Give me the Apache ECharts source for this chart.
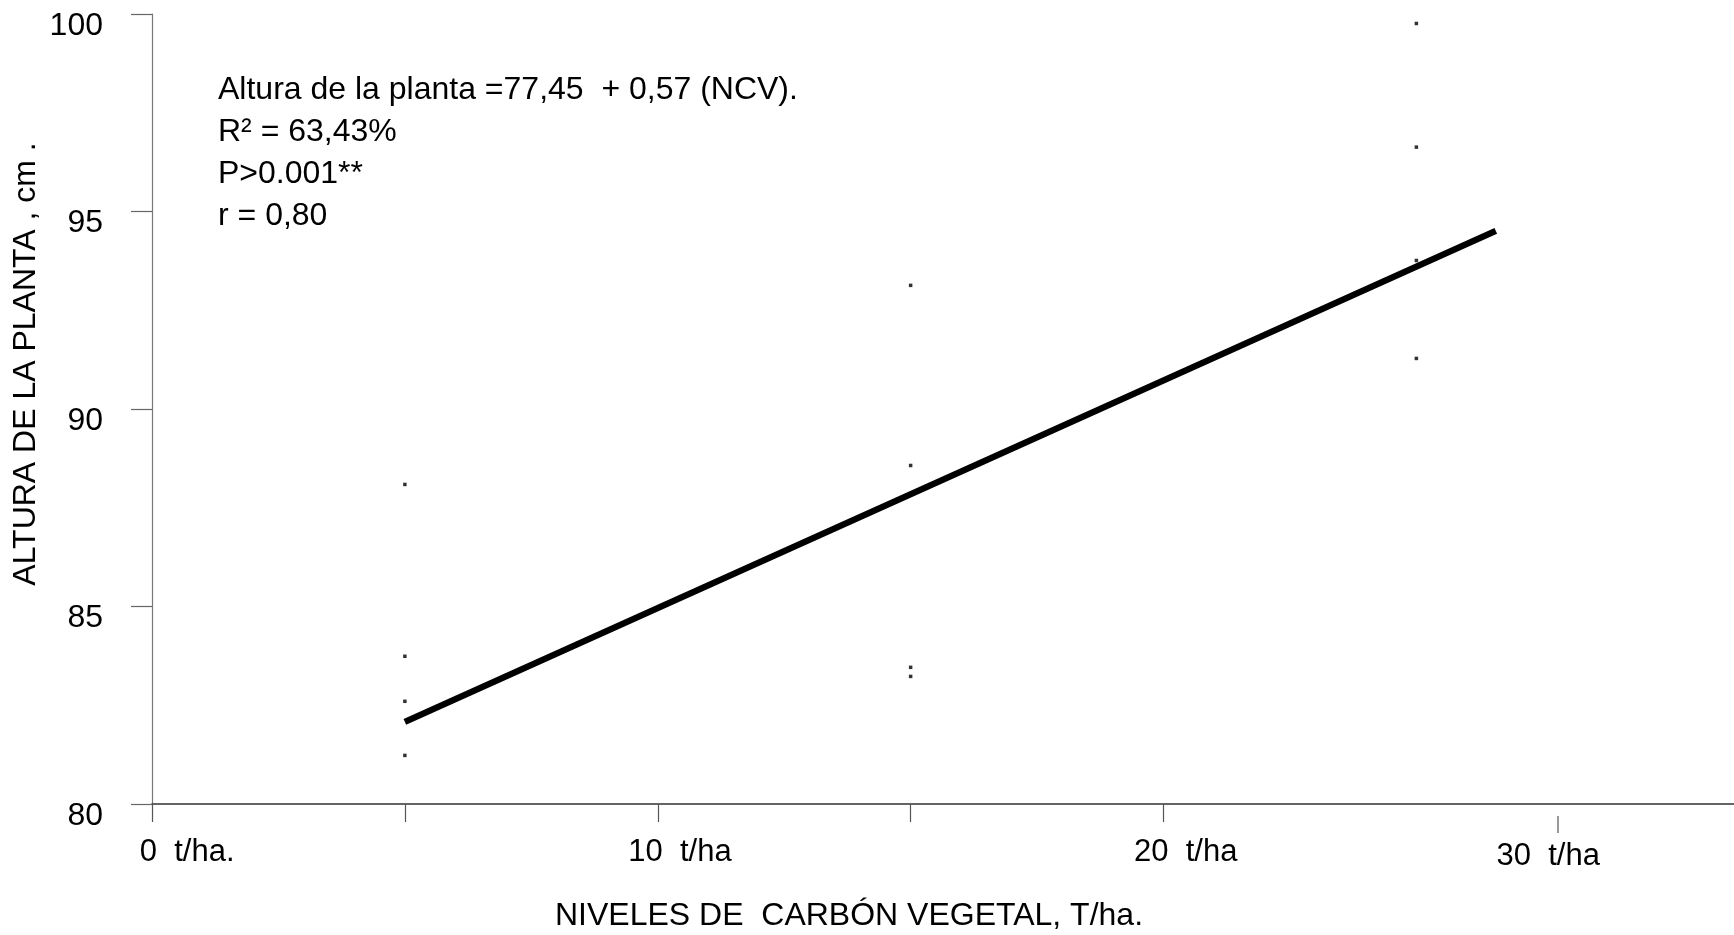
<!DOCTYPE html>
<html>
<head>
<meta charset="utf-8">
<script src="https://cdn.jsdelivr.net/npm/echarts@6/dist/echarts.min.js"></script>
<style>
  html, body { margin: 0; padding: 0; background: #ffffff; }
  #chart { width: 1734px; height: 935px; }
</style>
</head>
<body>
<div id="chart"></div>
<script>
// Niveles de carbón vegetal (t/ha) donde se midió la altura
const niveles = [5, 15, 25];
// Alturas de planta (cm) observadas en cada nivel
const alturasNivel5 = [88.09, 83.74, 82.60, 81.23];
const alturasNivel15 = [93.13, 88.57, 83.46, 83.23];
const alturasNivel25 = [99.76, 96.63, 93.76, 91.28];
// Recta de regresión (extremos)
const rectaX = [5.0, 26.57];
const rectaY = [82.08, 94.51];

// Marcas y rótulos del eje X
const xTicks = [0, 5, 10, 15, 20];
const xLabelValues = [0, 10, 20];
const xLabelNums = ['0', '10', '20'];
const xLabelUnits = ['  t/ha.', '  t/ha', '  t/ha'];
const xExtraLabel = { value: 27.8, num: '30', unit: '  t/ha' };

// Eje Y
const yMin = 80, yMax = 100, yStep = 5;

// Texto de la ecuación
const ecuacion = [
  'Altura de la planta =77,45  + 0,57 (NCV).',
  'R\u00B2 = 63,43%',
  'P>0.001**',
  'r = 0,80'
];
const tituloX = 'NIVELES DE  CARB\u00D3N VEGETAL, T/ha.';
const tituloY = 'ALTURA DE LA PLANTA , cm .';

const FONT = '"Liberation Sans", Arial, sans-serif';

const alturas = [alturasNivel5, alturasNivel15, alturasNivel25];
const puntos = [];
niveles.forEach((x, i) => alturas[i].forEach(v => puntos.push([x, v])));
const recta = rectaX.map((x, i) => [x, rectaY[i]]);

const chart = echarts.init(document.getElementById('chart'), null, { renderer: 'canvas' });

const option = {
  animation: false,
  backgroundColor: '#ffffff',
  grid: { left: 152, right: 0, top: 14, bottom: 131, containLabel: false },
  xAxis: {
    type: 'value',
    min: 0,
    max: 31.28,
    axisLine: { show: true, lineStyle: { color: '#333333', width: 1.5 } },
    axisTick: { show: true, length: 18, customValues: xTicks, lineStyle: { color: '#555555', width: 1.2 } },
    axisLabel: { show: false },
    splitLine: { show: false }
  },
  yAxis: {
    type: 'value',
    min: yMin,
    max: yMax,
    interval: yStep,
    axisLine: { show: true, lineStyle: { color: '#777777', width: 1.2 } },
    axisTick: { show: true, length: 21, lineStyle: { color: '#666666', width: 1.2 } },
    axisLabel: {
      show: true,
      margin: 49,
      color: '#000000',
      fontFamily: FONT,
      fontSize: 32,
      verticalAlign: 'top',
      lineHeight: 24
    },
    splitLine: { show: false }
  },
  series: [
    {
      type: 'scatter',
      data: puntos,
      symbol: 'rect',
      symbolSize: 3.5,
      itemStyle: { color: '#000000' },
      silent: true,
      z: 3
    },
    {
      type: 'line',
      data: recta,
      showSymbol: false,
      symbol: 'none',
      lineStyle: { color: '#000000', width: 6.3, cap: 'butt' },
      silent: true,
      z: 2
    }
  ]
};

chart.setOption(option);

// Rótulos del eje X colocados según la escala del eje
const graficos = [];
xLabelValues.forEach((v, i) => {
  const p = chart.convertToPixel({ xAxisIndex: 0, yAxisIndex: 0 }, [v, yMin]);
  graficos.push({
    type: 'text', silent: true, x: p[0] + 5, y: p[1] + 48,
    style: { text: xLabelNums[i], fill: '#000', fontSize: 31, fontFamily: FONT, align: 'right', verticalAlign: 'middle' }
  });
  graficos.push({
    type: 'text', silent: true, x: p[0] + 5, y: p[1] + 48,
    style: { text: xLabelUnits[i], fill: '#000', fontSize: 31, fontFamily: FONT, align: 'left', verticalAlign: 'middle' }
  });
});

const p30 = chart.convertToPixel({ xAxisIndex: 0, yAxisIndex: 0 }, [xExtraLabel.value, yMin]);
graficos.push(
  {
    type: 'line', silent: true,
    shape: { x1: p30[0], y1: p30[1] + 12, x2: p30[0], y2: p30[1] + 29 },
    style: { stroke: '#555555', lineWidth: 1.2 }
  },
  {
    type: 'text', silent: true, x: p30[0] - 27, y: p30[1] + 52,
    style: { text: xExtraLabel.num, fill: '#000', fontSize: 31, fontFamily: FONT, align: 'right', verticalAlign: 'middle' }
  },
  {
    type: 'text', silent: true, x: p30[0] - 27, y: p30[1] + 52,
    style: { text: xExtraLabel.unit, fill: '#000', fontSize: 31, fontFamily: FONT, align: 'left', verticalAlign: 'middle' }
  },
  {
    type: 'text', silent: true, x: 849, y: 916,
    style: { text: tituloX, fill: '#000', fontSize: 32, fontFamily: FONT, align: 'center', verticalAlign: 'middle' }
  },
  {
    type: 'text', silent: true, x: 26, y: 364, rotation: Math.PI / 2,
    style: { text: tituloY, fill: '#000', fontSize: 32, fontFamily: FONT, align: 'center', verticalAlign: 'middle' }
  },
  {
    type: 'text', silent: true, x: 218, y: 69,
    style: {
      text: ecuacion.join('\n'),
      fill: '#000', fontSize: 32, fontFamily: FONT,
      lineHeight: 42, align: 'left', verticalAlign: 'top'
    }
  }
);

chart.setOption({ graphic: graficos });
</script>
</body>
</html>
